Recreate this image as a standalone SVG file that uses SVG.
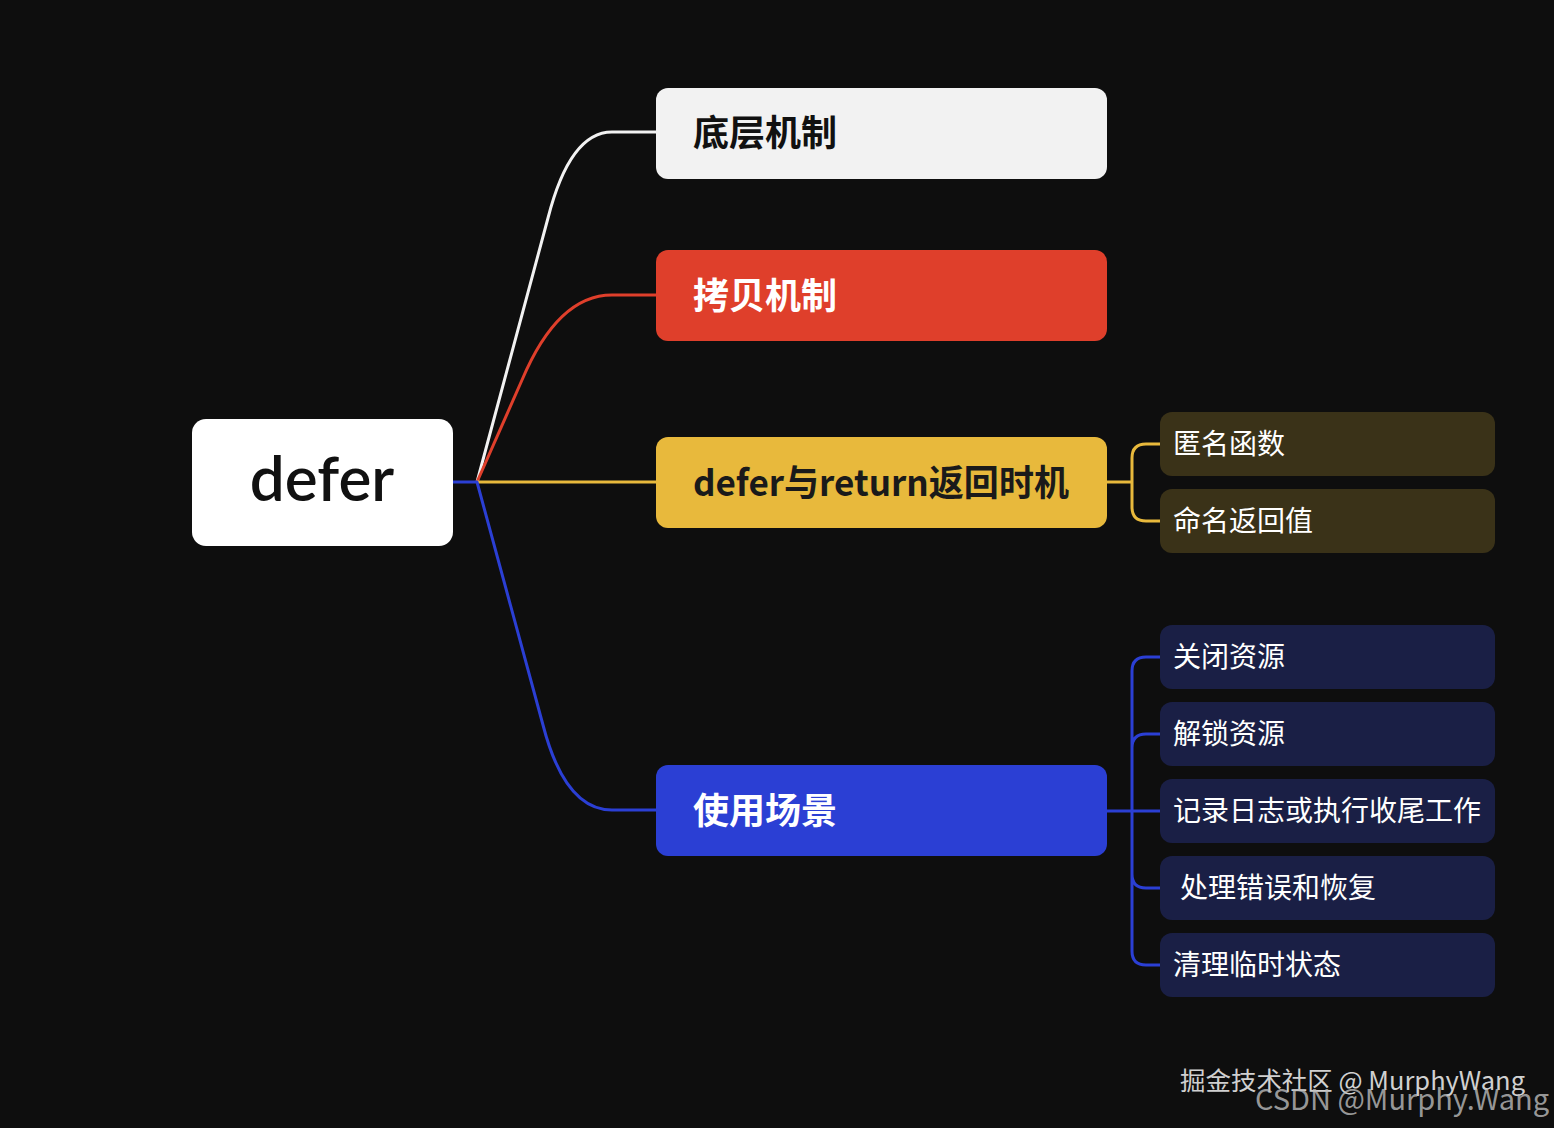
<svg xmlns="http://www.w3.org/2000/svg" width="1554" height="1128" viewBox="0 0 1554 1128">
<style>
.main{font-family:"Noto Sans CJK SC","Noto Sans",sans-serif;font-size:36px;font-weight:700}
.sub{font-family:"Noto Sans CJK SC","Noto Sans",sans-serif;font-size:28px;fill:#ffffff}
.ln{fill:none;stroke-width:3;stroke-linecap:round;stroke-linejoin:round}
.wm{font-family:"Noto Sans CJK SC","Liberation Sans",sans-serif}
</style>
<rect width="1554" height="1128" fill="#0e0e0e"/>
<g id="connectors">
<path class="ln" stroke="#f2f2f2" d="M477,482 L548,218 Q570,132 612,132 L656,132"/>
<path class="ln" stroke="#df3f2b" d="M477,482 L522,380 Q558,295 612,295 L656,295"/>
<path class="ln" stroke="#e8b93c" d="M477,482 L656,482"/>
<path class="ln" stroke="#2b3fd4" d="M453,482 L477,482 L543,725 Q565,810 612,810 L656,810"/>
<path class="ln" stroke="#e8b93c" d="M1107,482 L1132,482 M1160,444 L1146,444 Q1132,444 1132,458 L1132,507 Q1132,521 1146,521 L1160,521"/>
<path class="ln" stroke="#2b3fd4" d="M1107,811 L1160,811 M1160,657 L1146,657 Q1132,657 1132,671 L1132,951 Q1132,965 1146,965 L1160,965 M1132,748 Q1132,734 1146,734 L1160,734 M1132,874 Q1132,888 1146,888 L1160,888"/>
</g>
<g id="root">
<rect x="192" y="419" width="261" height="127" rx="14" fill="#ffffff"/>
<text x="322" y="501" text-anchor="middle" font-family="Lato,'Noto Sans',sans-serif" font-size="62" font-weight="600" fill="#111111">defer</text>
</g>
<g id="n1">
<rect x="656" y="88" width="451" height="91" rx="12" fill="#f2f2f2"/>
<text class="main" x="693" y="146" fill="#111111">底层机制</text>
</g>
<g id="n2">
<rect x="656" y="250" width="451" height="91" rx="12" fill="#df3f2b"/>
<text class="main" x="693" y="309" fill="#ffffff">拷贝机制</text>
</g>
<g id="n3">
<rect x="656" y="437" width="451" height="91" rx="12" fill="#e8b93c"/>
<text class="main" x="693" y="496" fill="#1a1a1a" textLength="376" lengthAdjust="spacingAndGlyphs">defer与return返回时机</text>
</g>
<g id="n4">
<rect x="656" y="765" width="451" height="91" rx="12" fill="#2b3fd4"/>
<text class="main" x="693" y="824" fill="#ffffff">使用场景</text>
</g>
<g id="n3a">
<rect x="1160" y="412" width="335" height="64" rx="12" fill="#3a3218"/>
<text class="sub" x="1173" y="454">匿名函数</text>
</g>
<g id="n3b">
<rect x="1160" y="489" width="335" height="64" rx="12" fill="#3a3218"/>
<text class="sub" x="1173" y="531">命名返回值</text>
</g>
<g id="n4a">
<rect x="1160" y="625" width="335" height="64" rx="12" fill="#1a1f45"/>
<text class="sub" x="1173" y="667">关闭资源</text>
</g>
<g id="n4b">
<rect x="1160" y="702" width="335" height="64" rx="12" fill="#1a1f45"/>
<text class="sub" x="1173" y="744">解锁资源</text>
</g>
<g id="n4c">
<rect x="1160" y="779" width="335" height="64" rx="12" fill="#1a1f45"/>
<text class="sub" x="1173" y="821">记录日志或执行收尾工作</text>
</g>
<g id="n4d">
<rect x="1160" y="856" width="335" height="64" rx="12" fill="#1a1f45"/>
<text class="sub" x="1180" y="898">处理错误和恢复</text>
</g>
<g id="n4e">
<rect x="1160" y="933" width="335" height="64" rx="12" fill="#1a1f45"/>
<text class="sub" x="1173" y="975">清理临时状态</text>
</g>
<g id="watermark">
<text class="wm" x="1180" y="1090" font-size="25" fill="#d0d0d0" textLength="345" lengthAdjust="spacingAndGlyphs">掘金技术社区 @ MurphyWang</text>
<text class="wm" x="1255" y="1110" font-size="29" fill="#bdbdbd" fill-opacity="0.8">CSDN @Murphy.Wang</text>
</g>
</svg>
